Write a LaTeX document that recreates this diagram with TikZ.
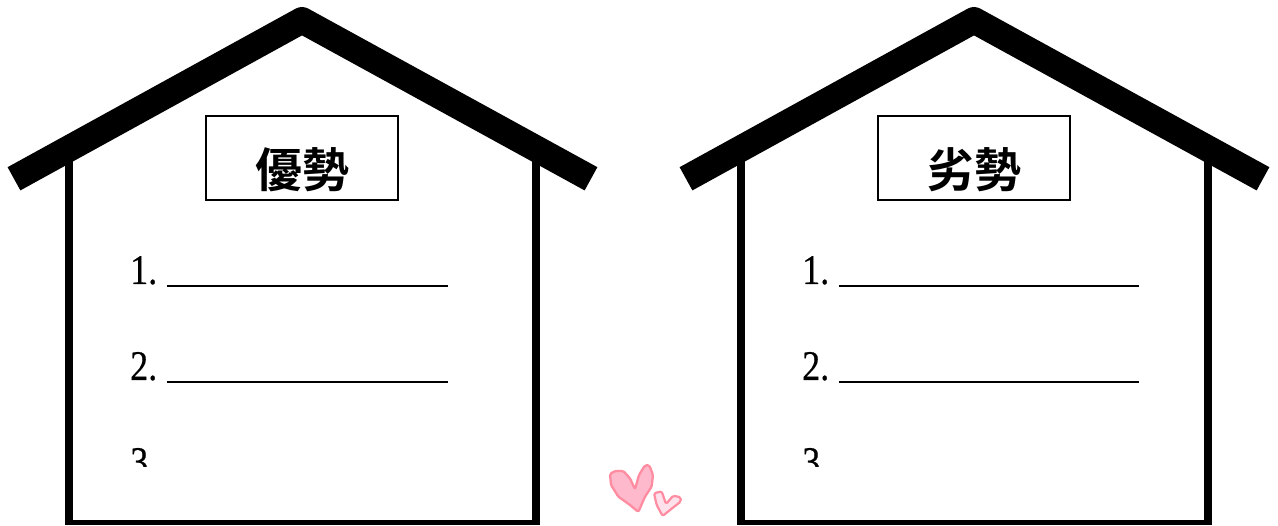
\documentclass[tikz,border=0pt]{standalone}
\usepackage{fontspec}
\newfontfamily\numfont[FakeBold=0.5]{Liberation Serif}
\setmainfont{Liberation Serif}
\newfontfamily\cjkbold[Scale=1]{Noto Sans CJK TC Bold}
\tikzset{
  x=1pt,y=-1pt,
  roof/.style={line width=26.5pt,line join=round,line cap=butt,black},
  wall/.style={line width=7.5pt,black},
  floorline/.style={line width=5.6pt,black},
  titlebox/.style={draw=black,line width=2pt,fill=white,minimum width=192pt,minimum height=84pt,inner sep=0pt},
  titletext/.style={inner sep=0pt,font=\cjkbold\fontsize{47}{47}\selectfont},
  numtext/.style={inner sep=0pt,anchor=base west,xscale=0.88,yscale=1.03,font=\numfont\fontsize{41}{41}\selectfont},
  rule/.style={line width=2.6pt,black},
  bigheart/.style={draw=heartedge,fill=heartfill,line width=2.3pt,line join=round,rounded corners=1.5pt},
  smallheart/.style={draw=heartedge,fill=heartpale,line width=2.2pt,line join=round,rounded corners=1.5pt}
}
\definecolor{heartedge}{RGB}{255,140,160}
\definecolor{heartfill}{RGB}{255,185,205}
\definecolor{heartpale}{RGB}{255,225,235}
\newcommand{\housedraw}[3]{%
  \begin{scope}[xshift=#1pt]
    \draw[wall] (69,160) -- (69,525);
    \draw[wall] (536,160) -- (536,525);
    \draw[floorline] (65.5,522.7) -- (539.5,522.7);
    \draw[roof] (14,178.8) -- (302,20.3) -- (591,178.8);
    \node[titlebox] (box#1) at (302.2,158.2) {};
    \node[titletext] (title#1) at (302.5,170) {#2};
    \begin{scope}
      \clip (100,230) rectangle (200,466.5);
      \node[numtext] (one#1) at (130,284) {1.};
      \node[numtext] (two#1) at (130,380) {2.};
      \node[numtext] (three#1) at (130,476) {3.};
    \end{scope}
    \coordinate (aL#1) at (167,286);
    \coordinate (aR#1) at (#3,286);
    \coordinate (bL#1) at (167,382);
    \coordinate (bR#1) at (#3,382);
    \draw[rule] (aL#1) -- (aR#1);
    \draw[rule] (bL#1) -- (bR#1);
  \end{scope}}
\begin{document}
\begin{tikzpicture}
\useasboundingbox (0,0) rectangle (1278,526);
\fill[white] (0,0) rectangle (1278,526);
\housedraw{0}{優勢}{448}
\housedraw{672}{劣勢}{467}
\begin{scope}[shift={(590pt,-450pt)},x=0.3333pt,y=-0.3333pt]
  \draw[bigheart] (60,72) -- (75,63) -- (100,63) -- (120,85) -- (135,118) -- (147,75) -- (165,46) -- (178,46) -- (189,75) -- (185,110) -- (165,140) -- (145,186) -- (120,165) -- (85,140) -- (63,105) -- cycle;
  \draw[smallheart] (192,130) -- (215,124) -- (228,162) -- (250,137) -- (272,142) -- (272,155) -- (240,180) -- (218,198) -- (200,165) -- cycle;
\end{scope}
\end{tikzpicture}
\end{document}
